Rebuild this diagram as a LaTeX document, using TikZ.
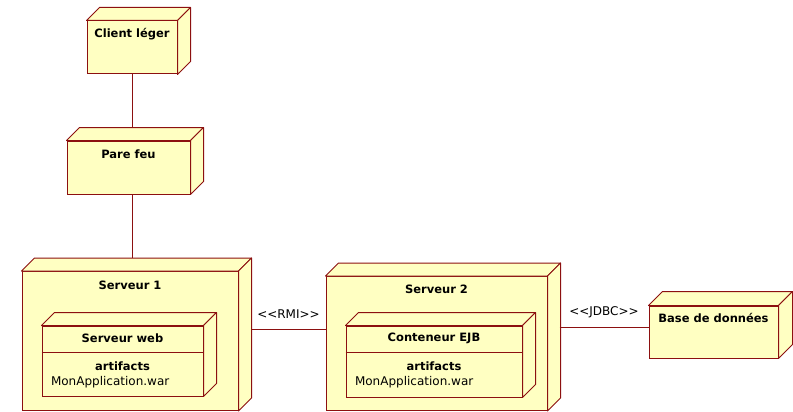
\documentclass[tikz,border=0pt]{standalone}
\usepackage{fontspec}
\setmainfont{DejaVu Sans}
\usetikzlibrary{backgrounds}
\definecolor{jaune}{RGB}{255,255,194}
\definecolor{bord}{RGB}{140,16,16}
\newcommand{\chev}[1]{\mbox{<}\mbox{<}#1\mbox{>}\mbox{>}}
\tikzset{
  noeud/.style={draw=bord, fill=jaune, line width=1pt, rectangle, inner sep=0pt},
  face/.style={draw=bord, fill=jaune, line width=1pt, line join=round},
  titre/.style={font=\fontsize{11.5}{14}\bfseries, anchor=center},
  texte/.style={font=\fontsize{12}{14}\selectfont},
  lien/.style={draw=bord, line width=1pt},
  stereo/.style={texte, midway, yshift=15pt},
}
% top and side faces of a node box
\newcommand{\volume}[2][13]{%
  \draw[face] (#2.north west) -- ++(#1,-#1) -- ([shift={(#1,-#1)}]#2.north east) -- (#2.north east) -- cycle;
  \draw[face] (#2.north east) -- ([shift={(#1,-#1)}]#2.north east) -- ([shift={(#1,-#1)}]#2.south east) -- (#2.south east) -- cycle;
}
\begin{document}
\begin{tikzpicture}[x=1pt,y=-1pt]
\useasboundingbox (0,0) rectangle (793,412);
\node[noeud, minimum width=90, minimum height=53, label={[titre, yshift=-14pt]north:Client léger}] (client) at (132,47.5) {};
\node[noeud, minimum width=123, minimum height=53, label={[titre, yshift=-14pt]north:Pare feu}] (parefeu) at (128.5,167.5) {};
\node[noeud, minimum width=216, minimum height=139, label={[titre, yshift=-14pt]north:Serveur 1}] (serveur1) at (130,341) {};
\node[noeud, minimum width=221, minimum height=134, label={[titre, yshift=-13pt]north:Serveur 2}] (serveur2) at (436.5,343.5) {};
\node[noeud, minimum width=129, minimum height=52, label={[titre, yshift=-12pt]north:Base de données}] (base) at (713.5,332) {};
\volume{client}
\volume{parefeu}
\volume{serveur1}
\volume{serveur2}
\volume[14]{base}
% contenu des serveurs
\node[noeud, minimum width=161, minimum height=70,
  label={[titre, yshift=-13pt]north:Serveur web},
  label={[titre, yshift=-41pt]north:artifacts},
  label={[texte, anchor=west, xshift=6pt, yshift=-57pt]north west:MonApplication.war}] (web) at (122.5,361) {};
\node[noeud, minimum width=176, minimum height=71,
  label={[titre, yshift=-13pt]north:Conteneur EJB},
  label={[titre, yshift=-41pt]north:artifacts},
  label={[texte, anchor=west, xshift=6pt, yshift=-57pt]north west:MonApplication.war}] (ejb) at (434,361.5) {};
\volume{web}
\volume{ejb}
\draw[lien] ([yshift=-27pt]web.north west) -- ([yshift=-27pt]web.north east);
\draw[lien] ([yshift=-27pt]ejb.north west) -- ([yshift=-27pt]ejb.north east);
\begin{pgfonlayer}{background}
\draw[lien] (client) -- (client |- parefeu);
\draw[lien] (parefeu.south -| client) -- (client |- serveur1);
\end{pgfonlayer}
\draw[lien] ([xshift=13pt, yshift=12pt]serveur1.east) -- node[stereo] {\chev{RMI}} ([yshift=12pt]serveur1.east -| serveur2.west);
\draw[lien] ([xshift=12pt, yshift=16.5pt]serveur2.east) -- node[stereo] {\chev{JDBC}} ([yshift=16.5pt]serveur2.east -| base.west);
\end{tikzpicture}
\end{document}
